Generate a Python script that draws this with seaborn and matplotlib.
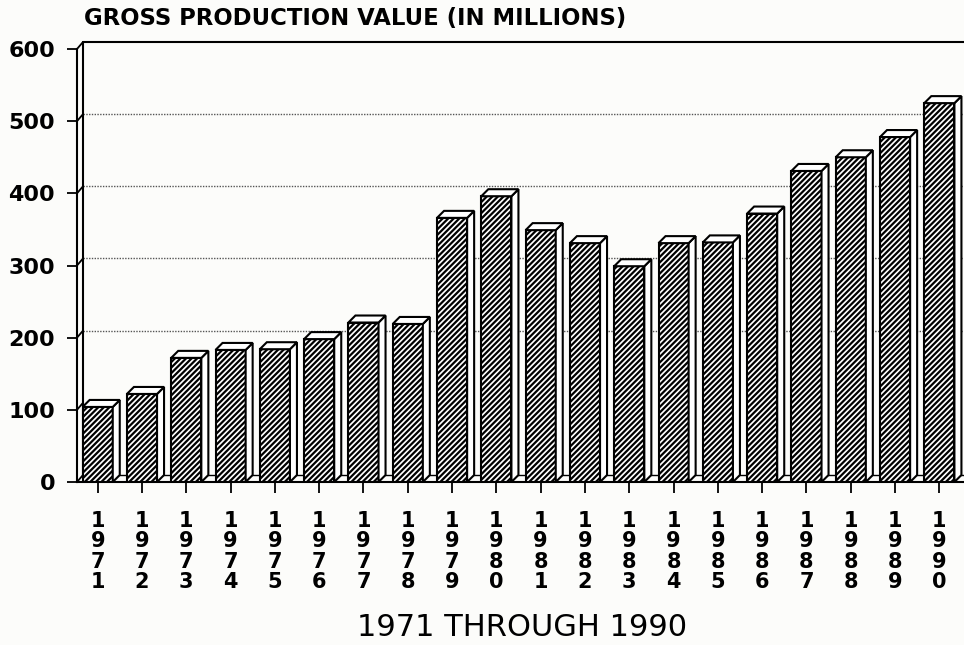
import matplotlib

matplotlib.use("Agg")
import matplotlib.pyplot as plt
import seaborn as sns
from matplotlib.patches import Polygon

# values (gross production value, millions)
years = ["1971", "1972", "1973", "1974", "1975", "1976", "1977", "1978", "1979", "1980",
         "1981", "1982", "1983", "1984", "1985", "1986", "1987", "1988", "1989", "1990"]
values = [104, 122, 172, 183, 184, 198, 221, 219, 366, 396,
          349, 331, 299, 331, 332, 372, 431, 450, 478, 525]
y_ticks = [0, 100, 200, 300, 400, 500, 600]
grid_levels = [200, 300, 400, 500]

sns.set_style("white")
plt.rcParams["font.family"] = ["DejaVu Sans"]
plt.rcParams["text.color"] = "black"
plt.rcParams["xtick.color"] = "black"
plt.rcParams["ytick.color"] = "black"
plt.rcParams["hatch.linewidth"] = 1.6
plt.rcParams["hatch.color"] = "black"

fig = plt.figure(figsize=(9.64, 6.45), dpi=100)
fig.patch.set_facecolor("#fcfcfa")
ax = fig.add_axes([77 / 964, 163 / 645, 887 / 964, 433 / 645])
ax.set_facecolor("none")

# pseudo 3d depth (data units)
dx = 0.158
dy = 9.7
x_left = -0.467
x_right = 19.556
x_wall = x_left + 0.135

sns.barplot(x=years, y=values, color="white", saturation=1, edgecolor="black",
            linewidth=1.5, width=0.68, hatch="//////", ax=ax, zorder=3)

bars = list(ax.patches)
for bar in bars:
    x0 = bar.get_x()
    x1 = x0 + bar.get_width()
    h = bar.get_height()
    side = Polygon([(x1, 0), (x1 + dx, dy), (x1 + dx, h + dy), (x1, h)],
                   facecolor="white", edgecolor="black", lw=1.5, zorder=3)
    top = Polygon([(x0, h), (x0 + dx, h + dy), (x1 + dx, h + dy), (x1, h)],
                  facecolor="white", edgecolor="black", lw=1.5, zorder=3)
    ax.add_patch(side)
    ax.add_patch(top)

ax.set_xlim(x_left, x_right)
ax.set_ylim(0, 600)

# back wall, floor and grid
ax.hlines([g + dy for g in grid_levels], x_wall, x_right, colors="#555555",
          linestyles=(0, (1, 1)), lw=1.0, zorder=1, clip_on=False)
ax.plot([x_wall, x_wall], [dy, 600 + dy], color="black", lw=1.5, clip_on=False, zorder=2)
ax.plot([x_wall, x_right], [600 + dy, 600 + dy], color="black", lw=1.5, clip_on=False, zorder=2)
ax.plot([x_wall, x_right], [dy, dy], color="black", lw=1.0, clip_on=False, zorder=1)
for t in y_ticks:
    ax.plot([x_left, x_wall], [t, t + dy], color="black", lw=1.3, clip_on=False, zorder=2)

for side_name in ["top", "right"]:
    ax.spines[side_name].set_visible(False)
for side_name in ["left", "bottom"]:
    ax.spines[side_name].set_color("black")
    ax.spines[side_name].set_linewidth(1.5)

ax.set_yticks(y_ticks)
ax.set_yticklabels([str(t) for t in y_ticks], fontweight="bold")
ax.set_xticks(range(len(years)))
ax.set_xticklabels(["\n".join(y) for y in years], fontweight="bold", linespacing=1.02)
ax.tick_params(axis="y", length=7.2, width=1.3, pad=8.6, labelsize=16, direction="out", left=True)
ax.tick_params(axis="x", length=8, width=1.3, pad=13, labelsize=15, direction="out", bottom=True)
ax.set_xlabel("")
ax.set_ylabel("")

fig.text(84 / 964, 1 - 18.5 / 645, "GROSS PRODUCTION VALUE (IN MILLIONS)",
         fontsize=16.4, fontweight="bold", ha="left", va="center")
fig.text(522 / 964, 1 - 627 / 645, "1971 THROUGH 1990", fontsize=22, ha="center", va="center")

fig.savefig("out.png", dpi=100)
